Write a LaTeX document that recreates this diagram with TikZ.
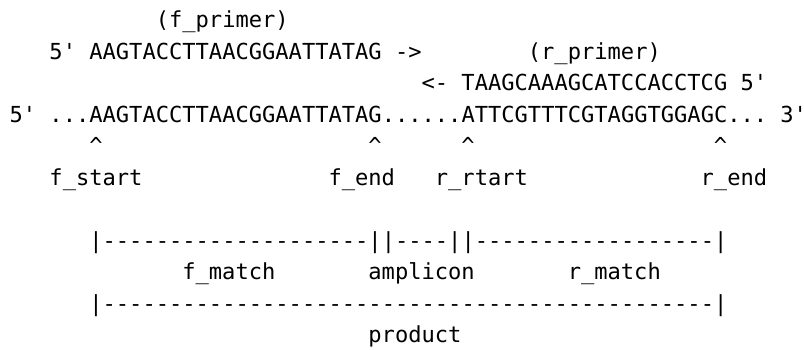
\documentclass[tikz,border=0pt]{standalone}
\usepackage{fontspec}
\setmonofont{DejaVu Sans Mono}

\begin{document}
\begin{tikzpicture}[x=6.645pt, y=-15.75pt,
    seq/.style={anchor=base west, inner sep=0pt, outer sep=0pt, font=\fontsize{11.04}{13}\ttfamily}]
    \useasboundingbox (-4.8pt,13.75pt) rectangle (397.2pt,-160.75pt);
    \node[seq] (fprimerlabel) at (11,0) {(f\_primer)};
    \node[seq] (ffive) at (3,1) {5'};
    \node[seq] (fprimer) at (6,1) {AAGTACCTTAACGGAATTATAG};
    \node[seq] (farrow) at (29,1) {->};
    \node[seq] (rprimerlabel) at (39,1) {(r\_primer)};
    \node[seq] (rarrow) at (31,2) {<-};
    \node[seq] (rprimer) at (34,2) {TAAGCAAAGCATCCACCTCG};
    \node[seq] (rfive) at (55,2) {5'};
    \node[seq] (tfive) at (0,3) {5'};
    \node[seq] (template) at (3,3) {...AAGTACCTTAACGGAATTATAG......ATTCGTTTCGTAGGTGGAGC...};
    \node[seq] (tthree) at (58,3) {3'};
    \foreach \c/\n in {6/fstartmark, 27/fendmark, 34/rstartmark, 53/rendmark}
        \node[seq] (\n) at (\c,4) {\textasciicircum};
    \node[seq] (fstart) at (3,5) {f\_start};
    \node[seq] (fend) at (24,5) {f\_end};
    \node[seq] (rstart) at (32,5) {r\_rtart};
    \node[seq] (rend) at (52,5) {r\_end};
    \node[seq] (matchbar) at (6,7) {|--------------------||----||------------------|};
    \node[seq] (fmatch) at (13,8) {f\_match};
    \node[seq] (amplicon) at (27,8) {amplicon};
    \node[seq] (rmatch) at (42,8) {r\_match};
    \node[seq] (productbar) at (6,9) {|----------------------------------------------|};
    \node[seq] (product) at (27,10) {product};
\end{tikzpicture}
\end{document}
